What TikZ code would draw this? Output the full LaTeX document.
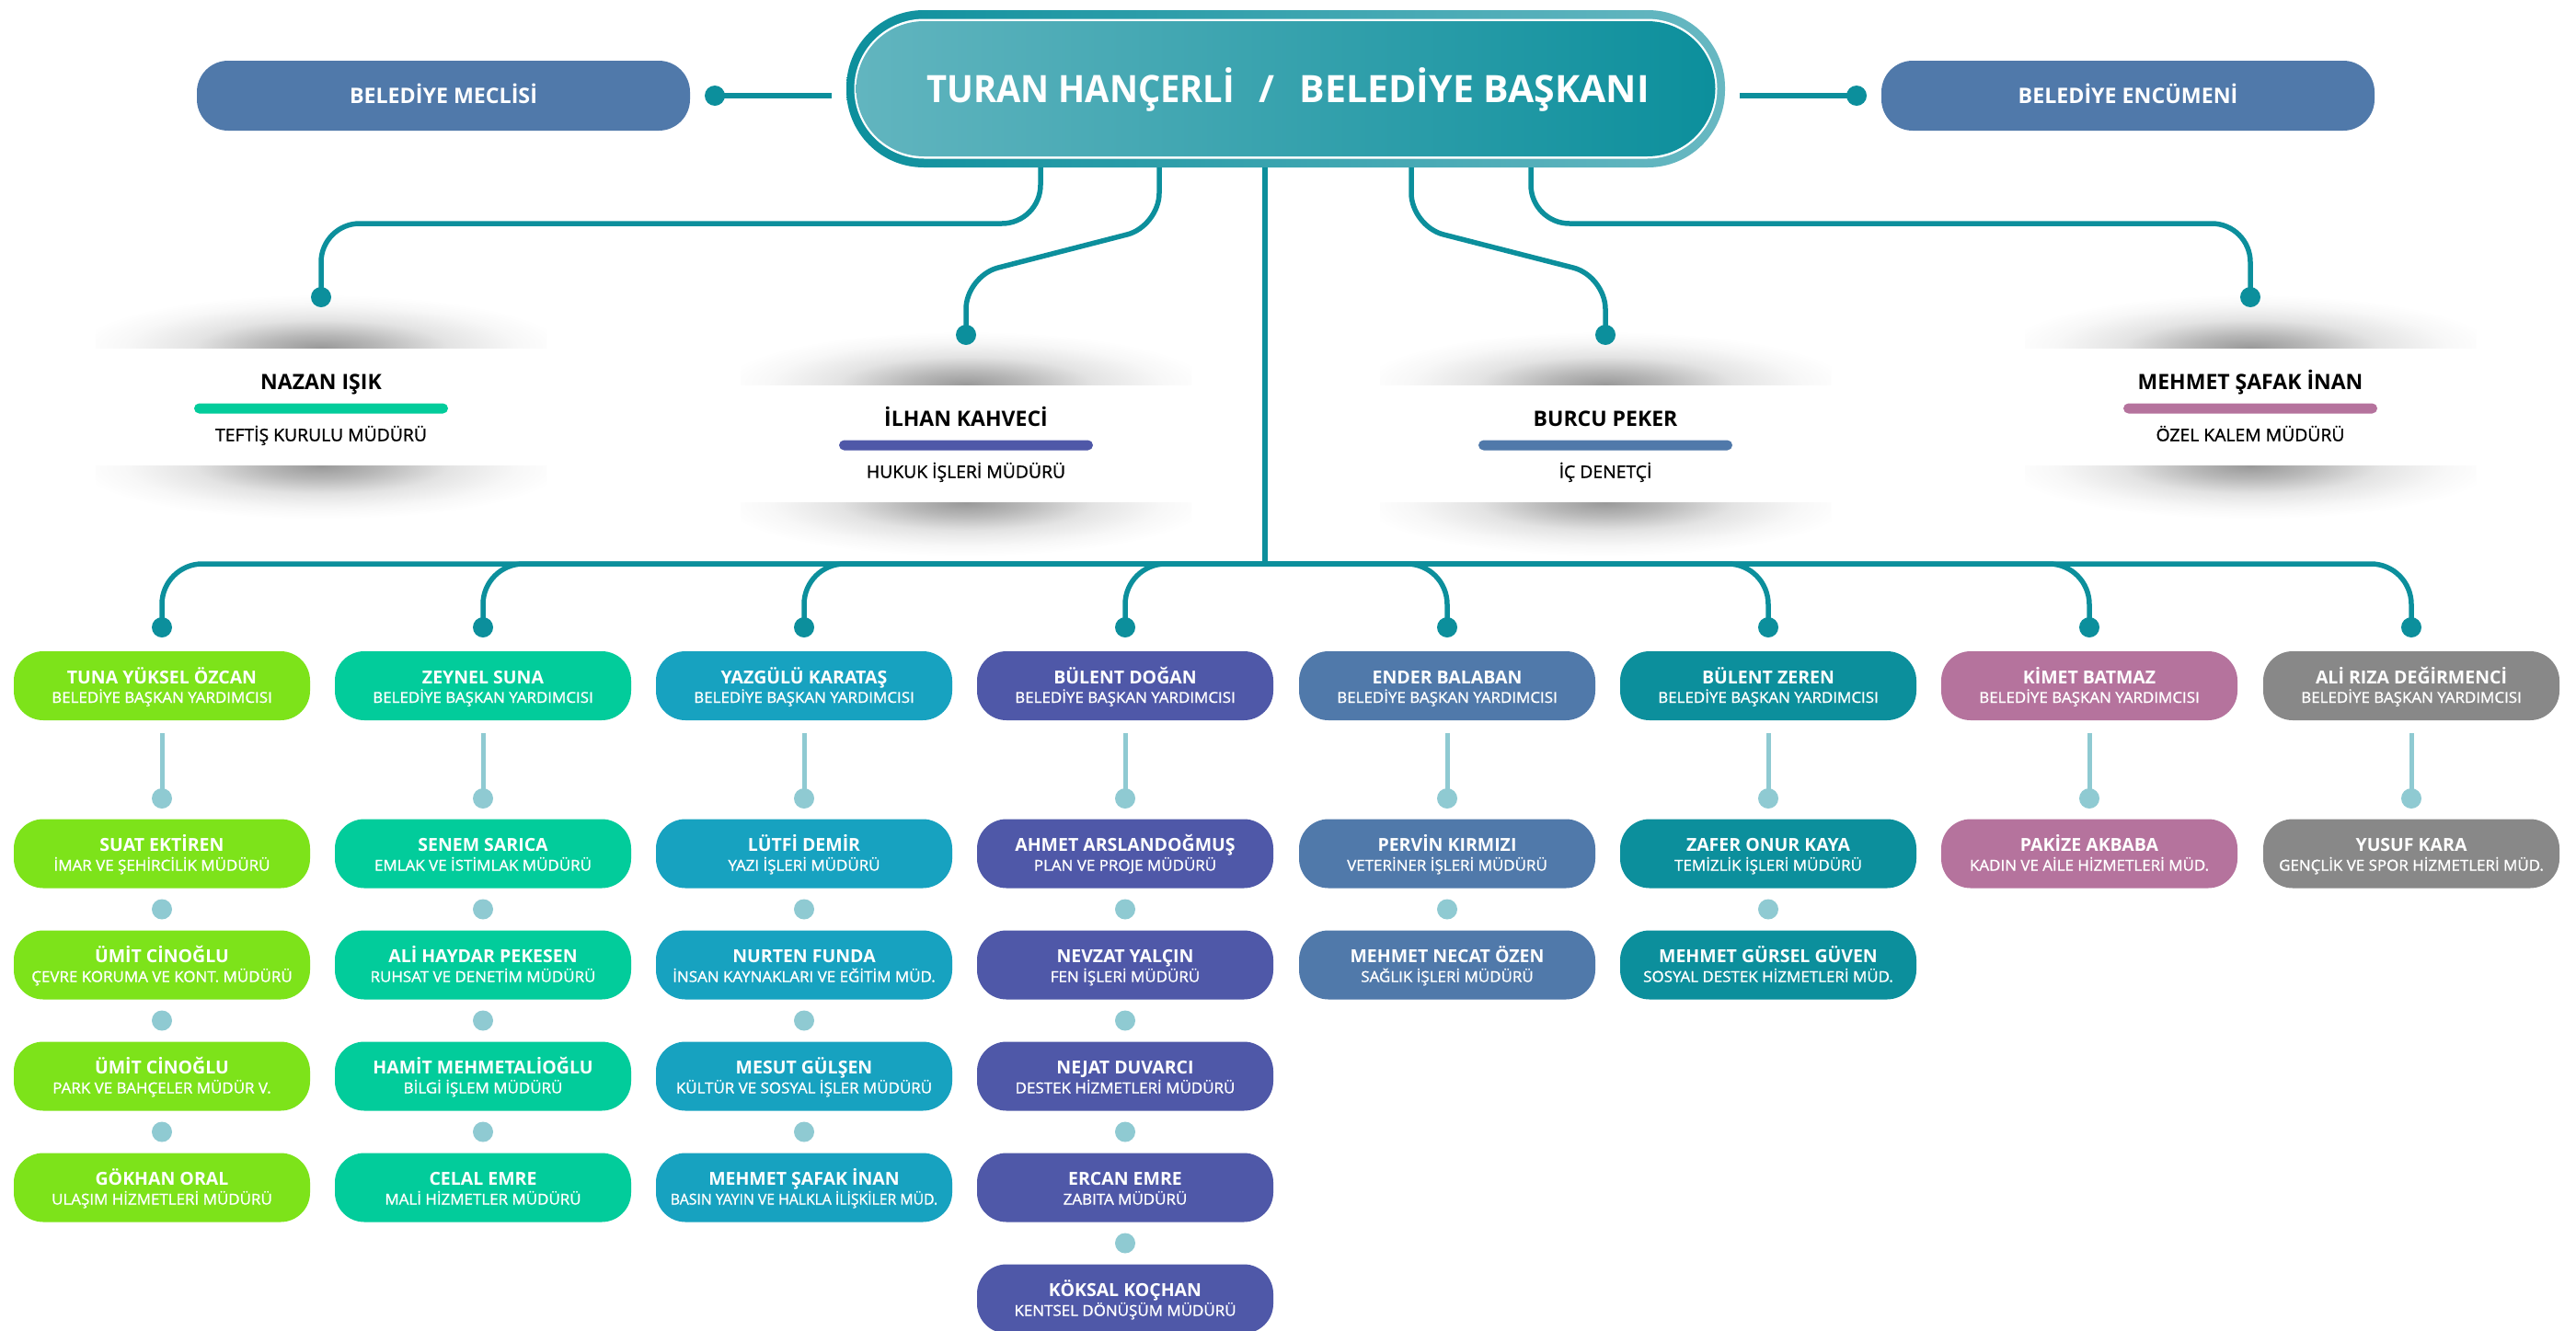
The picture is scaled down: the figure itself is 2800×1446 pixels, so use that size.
\documentclass[tikz,border=0pt]{standalone}
\usepackage{fontspec}
\usepackage{graphicx}
\setmainfont{Open Sans}
\newfontfamily\rolefont[FakeBold=1.2,FakeStretch=1.04]{Open Sans}
\usetikzlibrary{calc}

\definecolor{cLime}{HTML}{7DE31A}
\definecolor{cMint}{HTML}{02CC9B}
\definecolor{cCyan}{HTML}{17A2C0}
\definecolor{cIndigo}{HTML}{4F58A8}
\definecolor{cSteel}{HTML}{5079AA}
\definecolor{cTeal}{HTML}{0C8F9C}
\definecolor{cMauve}{HTML}{B5739D}
\definecolor{cGray}{HTML}{888888}
\definecolor{cLine}{HTML}{0C8F9C}
\definecolor{cLight}{HTML}{8FCAD2}
\definecolor{cTealLight}{HTML}{68B8C2}
\definecolor{cInnerL}{HTML}{62B5BF}
\definecolor{cInnerM}{HTML}{229AA6}

\pgfdeclareradialshading{shfade}{\pgfpointorigin}{color(0bp)=(black!40); color(6bp)=(black!28); color(13bp)=(black!11); color(20bp)=(black!3); color(25bp)=(white); color(50bp)=(white)}

\tikzset{
  ubox/.style={rounded corners=32pt, minimum width=322pt, minimum height=75pt, inner sep=0pt},
  topbox/.style={rounded corners=34pt, minimum width=536pt, minimum height=76pt, inner sep=0pt, fill=cSteel},
  toptxt/.style={text=white, font=\fontsize{23.2}{26}\selectfont\bfseries, inner sep=0pt, anchor=base},
  nametxt/.style={text=white, font=\fontsize{19.5}{22}\selectfont\bfseries, inner sep=0pt, anchor=base},
  roletxt/.style={text=white, font=\rolefont\fontsize{16.3}{18}\selectfont, inner sep=0pt, anchor=base},
  conn/.style={draw=cLine, line width=5.5pt},
  lconn/.style={draw=cLight, line width=5pt},
  dotd/.style={circle, fill=cLine, minimum size=22pt, inner sep=0pt},
  dotl/.style={circle, fill=cLight, minimum size=22pt, inner sep=0pt},
  cardname/.style={text=black, font=\fontsize{23}{26}\selectfont\bfseries, inner sep=0pt, anchor=base},
  cardrole/.style={text=black, font=\rolefont\fontsize{18.6}{20}\selectfont, inner sep=0pt, anchor=base},
  cardbar/.style={rounded corners=5.5pt, minimum width=276pt, minimum height=11pt, inner sep=0pt},
}

% org box: id, x, y, color, NAME, ROLE
\newcommand\obox[6]{%
  \node[ubox, fill=#4] (#1) at (#2,#3) {};
  \node[nametxt] (#1n) at (#2,#3-2.2) {#5};
  \node[roletxt] (#1r) at (#2,#3+18.5) {#6};}

% card: id, x, ytop, barcolor, NAME, ROLE
\newcommand\pcard[6]{%
  \begin{scope}
    \clip (#2-245,#3-75) rectangle (#2+245,#3);
    \shade[shading=shfade] (#2,#3) ellipse [x radius=265pt, y radius=58pt];
  \end{scope}
  \begin{scope}
    \clip (#2-245,#3+128.5) rectangle (#2+245,#3+210);
    \shade[shading=shfade] (#2,#3+128.5) ellipse [x radius=265pt, y radius=58pt];
  \end{scope}
  \node[cardname] (#1n) at (#2,#3+45.5) {#5};
  \node[cardbar, fill=#4] (#1b) at (#2,#3+66) {};
  \node[cardrole] (#1r) at (#2,#3+101.5) {#6};}

\begin{document}
\begin{tikzpicture}[x=1pt,y=-1pt]
\useasboundingbox[fill=white] (0,0) rectangle (2800,1446);

% ---------- mayor ----------
\node[rounded corners=84pt, minimum width=955pt, minimum height=171pt, inner sep=0pt,
      left color=cLine, right color=cTealLight] (mayor) at (1397.5,96.5) {};
\node[rounded corners=76pt, minimum width=938pt, minimum height=152pt, inner sep=0pt, fill=white] (mayorw) at (1397.5,96.5) {};
\node[rounded corners=74pt, minimum width=934pt, minimum height=147pt, inner sep=0pt,
      left color=cInnerL, middle color=cInnerM, right color=cLine] (mayori) at (1397.5,96.5) {};
\node[text=white, font=\fontsize{41}{48}\selectfont\bfseries, anchor=base, inner sep=0pt] (mayort) at (1400,111)
  {\scalebox{0.93}[1]{TURAN HANÇERLİ}\hspace{26pt}/\hspace{28pt}BELEDİYE BAŞKANI};

% ---------- council boxes ----------
\node[topbox] (meclis) at (482,104) {};
\node[toptxt] (meclist) at (482,112) {BELEDİYE MECLİSİ};
\node[topbox] (encumen) at (2313,104) {};
\node[toptxt] (encument) at (2313,112) {BELEDİYE ENCÜMENİ};
\node[dotd] (dml) at (777,104) {};
\node[dotd] (dmr) at (2018,104) {};
\coordinate (cl) at (904,104);
\coordinate (cr) at (1891,104);
\draw[conn] (dml.center) -- (cl);
\draw[conn] (cr) -- (dmr.center);

% ---------- staff cards ----------
\pcard{k1}{349}{378}{cMint}{NAZAN IŞIK}{TEFTİŞ KURULU MÜDÜRÜ}
\pcard{k2}{1050}{418}{cIndigo}{İLHAN KAHVECİ}{HUKUK İŞLERİ MÜDÜRÜ}
\pcard{k3}{1745}{418}{cSteel}{BURCU PEKER}{İÇ DENETÇİ}
\pcard{k4}{2446}{378}{cMauve}{MEHMET ŞAFAK İNAN}{ÖZEL KALEM MÜDÜRÜ}

\node[dotd] (kd1) at (349,323) {};
\node[dotd] (kd2) at (1050,364) {};
\node[dotd] (kd3) at (1745,364) {};
\node[dotd] (kd4) at (2446,323) {};
\coordinate (m1) at (1131,182);
\coordinate (m2) at (1260,182);
\coordinate (m3) at (1534,182);
\coordinate (m4) at (1664,182);
\draw[conn, rounded corners=42pt] (m1) |- (kd1.center |- 0,243) -- (kd1.center);
\draw[conn, rounded corners=36pt] (m2) -- (1260,246) -- (1050,300) -- (kd2.center);
\draw[conn, rounded corners=36pt] (m3) -- (1534,246) -- (1745,300) -- (kd3.center);
\draw[conn, rounded corners=42pt] (m4) |- (kd4.center |- 0,243) -- (kd4.center);

% ---------- trunk and bus ----------
\coordinate (tt) at (1375,182);
\coordinate (tb) at (1375,613);
\draw[conn] (tt) -- (tb);
\foreach \i/\x in {1/176,2/525,3/874,4/1223,5/1573,6/1922,7/2271,8/2621}{
  \node[dotd] (vd\i) at (\x,682) {};
  \draw[conn, rounded corners=44pt] (tb) -| (vd\i.center);
}

% ---------- column 1 ----------
\obox{v1}{176}{745.5}{cLime}{TUNA YÜKSEL ÖZCAN}{BELEDİYE BAŞKAN YARDIMCISI}
\obox{a1}{176}{928}{cLime}{SUAT EKTİREN}{İMAR VE ŞEHİRCİLİK MÜDÜRÜ}
\obox{a2}{176}{1049}{cLime}{ÜMİT CİNOĞLU}{ÇEVRE KORUMA VE KONT. MÜDÜRÜ}
\obox{a3}{176}{1170}{cLime}{ÜMİT CİNOĞLU}{PARK VE BAHÇELER MÜDÜR V.}
\obox{a4}{176}{1291}{cLime}{GÖKHAN ORAL}{ULAŞIM HİZMETLERİ MÜDÜRÜ}

% ---------- column 2 ----------
\obox{v2}{525}{745.5}{cMint}{ZEYNEL SUNA}{BELEDİYE BAŞKAN YARDIMCISI}
\obox{b1}{525}{928}{cMint}{SENEM SARICA}{EMLAK VE İSTİMLAK MÜDÜRÜ}
\obox{b2}{525}{1049}{cMint}{ALİ HAYDAR PEKESEN}{RUHSAT VE DENETİM MÜDÜRÜ}
\obox{b3}{525}{1170}{cMint}{HAMİT MEHMETALİOĞLU}{BİLGİ İŞLEM MÜDÜRÜ}
\obox{b4}{525}{1291}{cMint}{CELAL EMRE}{MALİ HİZMETLER MÜDÜRÜ}

% ---------- column 3 ----------
\obox{v3}{874}{745.5}{cCyan}{YAZGÜLÜ KARATAŞ}{BELEDİYE BAŞKAN YARDIMCISI}
\obox{c1}{874}{928}{cCyan}{LÜTFİ DEMİR}{YAZI İŞLERİ MÜDÜRÜ}
\obox{c2}{874}{1049}{cCyan}{NURTEN FUNDA}{İNSAN KAYNAKLARI VE EĞİTİM MÜD.}
\obox{c3}{874}{1170}{cCyan}{MESUT GÜLŞEN}{KÜLTÜR VE SOSYAL İŞLER MÜDÜRÜ}
\obox{c4}{874}{1291}{cCyan}{MEHMET ŞAFAK İNAN}{\scalebox{0.93}[1]{BASIN YAYIN VE HALKLA İLİŞKİLER MÜD.}}

% ---------- column 4 ----------
\obox{v4}{1223}{745.5}{cIndigo}{BÜLENT DOĞAN}{BELEDİYE BAŞKAN YARDIMCISI}
\obox{d1}{1223}{928}{cIndigo}{AHMET ARSLANDOĞMUŞ}{PLAN VE PROJE MÜDÜRÜ}
\obox{d2}{1223}{1049}{cIndigo}{NEVZAT YALÇIN}{FEN İŞLERİ MÜDÜRÜ}
\obox{d3}{1223}{1170}{cIndigo}{NEJAT DUVARCI}{DESTEK HİZMETLERİ MÜDÜRÜ}
\obox{d4}{1223}{1291}{cIndigo}{ERCAN EMRE}{ZABITA MÜDÜRÜ}
\obox{d5}{1223}{1412}{cIndigo}{KÖKSAL KOÇHAN}{KENTSEL DÖNÜŞÜM MÜDÜRÜ}

% ---------- column 5 ----------
\obox{v5}{1573}{745.5}{cSteel}{ENDER BALABAN}{BELEDİYE BAŞKAN YARDIMCISI}
\obox{e1}{1573}{928}{cSteel}{PERVİN KIRMIZI}{VETERİNER İŞLERİ MÜDÜRÜ}
\obox{e2}{1573}{1049}{cSteel}{MEHMET NECAT ÖZEN}{SAĞLIK İŞLERİ MÜDÜRÜ}

% ---------- column 6 ----------
\obox{v6}{1922}{745.5}{cTeal}{BÜLENT ZEREN}{BELEDİYE BAŞKAN YARDIMCISI}
\obox{f1}{1922}{928}{cTeal}{ZAFER ONUR KAYA}{TEMİZLİK İŞLERİ MÜDÜRÜ}
\obox{f2}{1922}{1049}{cTeal}{MEHMET GÜRSEL GÜVEN}{SOSYAL DESTEK HİZMETLERİ MÜD.}

% ---------- column 7 ----------
\obox{v7}{2271}{745.5}{cMauve}{KİMET BATMAZ}{BELEDİYE BAŞKAN YARDIMCISI}
\obox{g1}{2271}{928}{cMauve}{PAKİZE AKBABA}{KADIN VE AİLE HİZMETLERİ MÜD.}

% ---------- column 8 ----------
\obox{v8}{2621}{745.5}{cGray}{ALİ RIZA DEĞİRMENCİ}{BELEDİYE BAŞKAN YARDIMCISI}
\obox{h1}{2621}{928}{cGray}{YUSUF KARA}{GENÇLİK VE SPOR HİZMETLERİ MÜD.}

% ---------- light connectors VP -> first unit ----------
\foreach \i/\x in {1/176,2/525,3/874,4/1223,5/1573,6/1922,7/2271,8/2621}{
  \node[dotl] (ld\i) at (\x,868) {};
  \draw[lconn] ([yshift=-14pt]v\i.south) -- (ld\i.center);
}

% ---------- light dots between units ----------
\node[dotl] (la1) at (176,988.5) {};
\node[dotl] (la2) at (176,1109.5) {};
\node[dotl] (la3) at (176,1230.5) {};
\node[dotl] (lb1) at (525,988.5) {};
\node[dotl] (lb2) at (525,1109.5) {};
\node[dotl] (lb3) at (525,1230.5) {};
\node[dotl] (lc1) at (874,988.5) {};
\node[dotl] (lc2) at (874,1109.5) {};
\node[dotl] (lc3) at (874,1230.5) {};
\node[dotl] (ldd1) at (1223,988.5) {};
\node[dotl] (ldd2) at (1223,1109.5) {};
\node[dotl] (ldd3) at (1223,1230.5) {};
\node[dotl] (ldd4) at (1223,1351.5) {};
\node[dotl] (le1) at (1573,988.5) {};
\node[dotl] (lf1) at (1922,988.5) {};
\end{tikzpicture}
\end{document}
